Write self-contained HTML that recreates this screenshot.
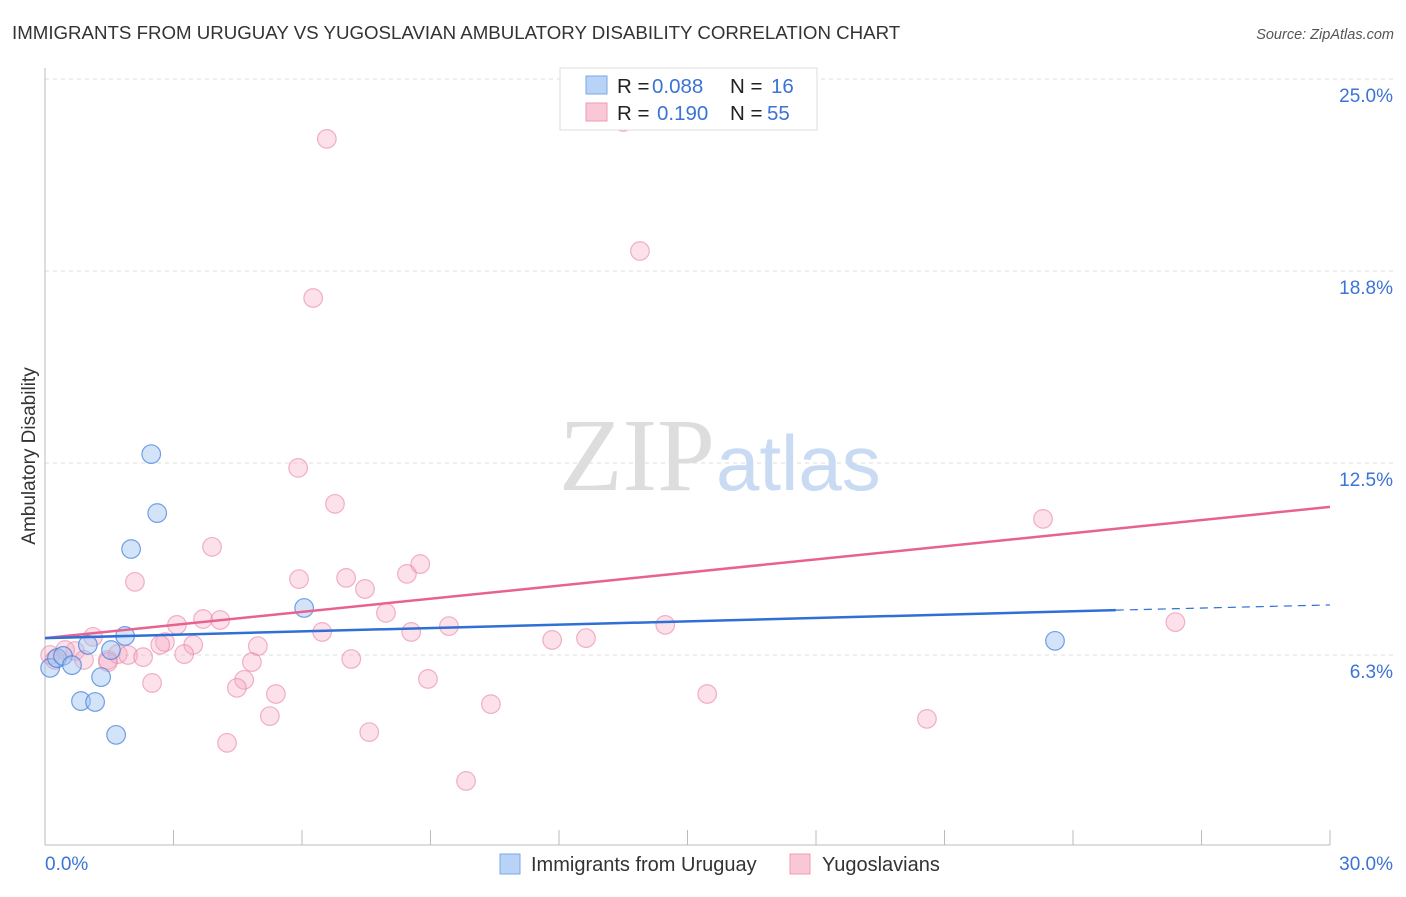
<!DOCTYPE html>
<html><head><meta charset="utf-8"><style>
body{margin:0;background:#fff;font-family:"Liberation Sans",sans-serif;}
svg text{font-family:"Liberation Sans",sans-serif;}
</style></head><body>
<svg id="c" width="1406" height="892" xmlns="http://www.w3.org/2000/svg">
<text x="12" y="39" font-size="18.7" fill="#333">IMMIGRANTS FROM URUGUAY VS YUGOSLAVIAN AMBULATORY DISABILITY CORRELATION CHART</text>
<text x="1394" y="39" font-size="14.5" fill="#555" font-style="italic" text-anchor="end">Source: ZipAtlas.com</text>
<text x="35" y="456" font-size="19" fill="#333" text-anchor="middle" transform="rotate(-90 35 456)">Ambulatory Disability</text>
<g id="grid"></g>
<text x="715" y="490" font-size="104" fill="#ddd" font-family="Liberation Serif" text-anchor="end" style="font-family:'Liberation Serif',serif">ZIP</text>
<text x="716" y="490" font-size="78" fill="#c9daf3">atlas</text>
<line x1="45" y1="68" x2="45" y2="845" stroke="#bbb"/>
<line x1="45" y1="845" x2="1330" y2="845" stroke="#bbb"/>
<g id="pts"></g>
<g id="lines"></g>
<g>
<rect x="560" y="68" width="257" height="62" fill="#fff" stroke="#ddd"/>
<rect x="586" y="76" width="21" height="18" fill="#b8d3f5" stroke="#7aa7e8"/>
<rect x="586" y="103" width="21" height="18" fill="#f9c8d6" stroke="#ef9bb5"/>
<text x="617" y="93" font-size="20.5" fill="#222">R = <tspan x="652" fill="#3b73d6">0.088</tspan><tspan x="730">N = </tspan><tspan x="771" fill="#3b73d6">16</tspan></text>
<text x="617" y="120" font-size="20.5" fill="#222">R = <tspan x="657" fill="#3b73d6">0.190</tspan><tspan x="730">N = </tspan><tspan x="767" fill="#3b73d6">55</tspan></text>
</g>
<g>
<rect x="500" y="854" width="20" height="20" fill="#b8d3f5" stroke="#7aa7e8"/>
<text x="531" y="871" font-size="20" fill="#333">Immigrants from Uruguay</text>
<rect x="790" y="854" width="20" height="20" fill="#f9c8d6" stroke="#ef9bb5"/>
<text x="822" y="871" font-size="20" fill="#333">Yugoslavians</text>
</g>
<text x="45" y="870" font-size="19" fill="#3b73d6">0.0%</text>
<text x="1393" y="870" font-size="19" fill="#3b73d6" text-anchor="end">30.0%</text>
</svg>
<script>
const yTicks=[25,18.75,12.5,6.25];
const yTickLabels=["25.0%","18.8%","12.5%","6.3%"];
const xTicks=[0,3,6,9,12,15,18,21,24,27,30];
const uruguayX=[0.12,0.28,0.42,0.63,1.0,0.84,1.17,1.31,1.54,1.66,1.87,2.48,2.62,2.01,6.05,23.58];
const uruguayY=[5.83,6.15,6.22,5.92,6.58,4.75,4.72,5.53,6.41,3.65,6.87,12.79,10.87,9.70,7.78,6.71];
const yugoX=[13.5,6.58,13.89,6.26,5.91,6.77,3.90,2.10,5.93,7.03,7.47,8.45,8.76,7.96,3.08,3.69,4.09,2.80,2.69,3.46,3.25,4.97,6.47,8.55,9.43,11.84,12.63,14.48,26.39,23.30,1.12,0.70,0.47,0.91,1.47,1.70,1.94,2.29,1.47,2.50,4.83,4.65,4.48,5.39,5.25,4.25,7.15,8.94,7.57,10.41,9.83,15.46,20.59,0.12,0.23];
const yugoY=[23.6,23.05,19.40,17.87,12.34,11.17,9.77,8.63,8.72,8.76,8.40,8.89,9.21,7.62,7.23,7.42,7.39,6.67,6.58,6.58,6.28,6.54,7.00,7.00,7.19,6.74,6.80,7.23,7.32,10.68,6.84,6.38,6.41,6.09,6.09,6.28,6.25,6.18,6.02,5.34,6.02,5.44,5.18,4.98,4.26,3.39,6.12,5.47,3.74,4.65,2.15,4.98,4.17,6.25,6.09];
const uruguayTrend=[6.80,7.71,7.88];
const yugoTrend=[6.80,11.07];
const X=v=>45+v/30*1285, Y=v=>847-v*30.72;
const NS="http://www.w3.org/2000/svg";
function mk(t,a,p){const e=document.createElementNS(NS,t);for(const k in a)e.setAttribute(k,a[k]);p.appendChild(e);return e;}
const grid=document.getElementById('grid');
yTicks.forEach((t,i)=>{
 const l=mk('line',{x1:45,x2:1395,y1:Y(t),y2:Y(t),stroke:'#ddd','stroke-dasharray':'4,4'},grid);
 
 
 const tx=mk('text',{x:1393,y:Y(t)+23,'font-size':19,fill:'#3b73d6','text-anchor':'end'},grid);
 tx.textContent=yTickLabels[i];
 
 
});
xTicks.forEach(t=>{
 const l=mk('line',{x1:X(t),x2:X(t),y1:830,y2:845,stroke:'#bbb'},grid);
 
 
});
const pts=document.getElementById('pts');
yugoX.forEach((x,i)=>{
 const c=mk('circle',{cx:X(x),cy:Y(yugoY[i]),r:9.3,fill:'rgba(246,170,195,0.35)',stroke:'rgba(232,130,165,0.6)','stroke-width':1.2},pts);
 
 
});
uruguayX.forEach((x,i)=>{
 const c=mk('circle',{cx:X(x),cy:Y(uruguayY[i]),r:9.3,fill:'rgba(160,195,240,0.45)',stroke:'rgba(70,130,220,0.75)','stroke-width':1.2},pts);
 
 
});
const ln=document.getElementById('lines');
const a=mk('line',{x1:X(0),y1:Y(yugoTrend[0]),x2:X(30),y2:Y(yugoTrend[1]),stroke:'#e8628f','stroke-width':2.5},ln);


const b=mk('line',{x1:X(0),y1:Y(uruguayTrend[0]),x2:X(25),y2:Y(uruguayTrend[1]),stroke:'#2f6fd6','stroke-width':2.5},ln);


const d=mk('line',{x1:X(25),y1:Y(uruguayTrend[1]),x2:X(30),y2:Y(uruguayTrend[2]),stroke:'#2f6fd6','stroke-width':1.2,'stroke-dasharray':'8,6'},ln);


</script>
</body></html>
